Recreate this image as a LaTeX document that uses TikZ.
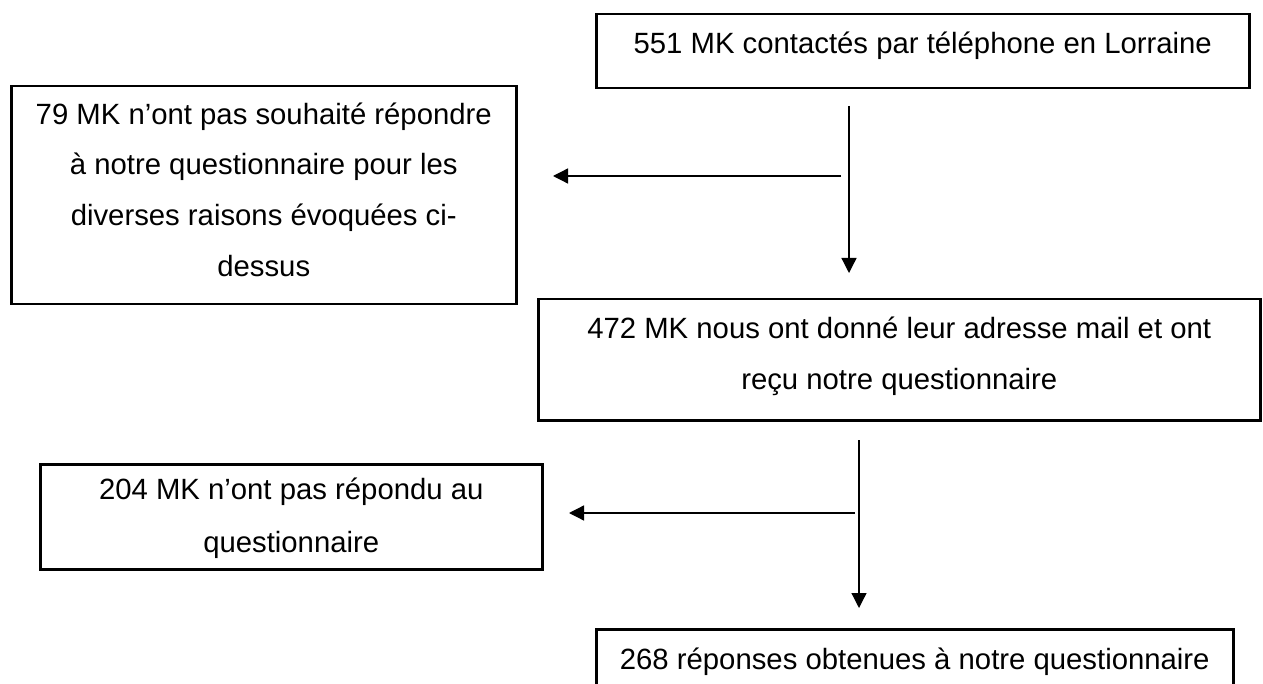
\documentclass[tikz,border=0pt]{standalone}
\usepackage{fontspec}
\setmainfont{Liberation Sans}
\usetikzlibrary{arrows.meta}
\newcommand\boxtext[5]{\parbox[t][#1][t]{#2}{\centering\fontsize{29.3pt}{#4}\selectfont\rule{0pt}{#3}#5\par}}
\tikzset{
  boxframe/.style={draw, line width=2.5pt, inner sep=0pt, anchor=north west},
  conn/.style={line width=1.3pt, -{Triangle[length=15pt,width=15pt]}},
}
\begin{document}
\begin{tikzpicture}[x=1pt,y=-1pt]
\useasboundingbox (0,0) rectangle (1263,684);
\clip (0,0) rectangle (1263,684);
\node[boxframe] (b1) at (595,13) {\boxtext{74pt}{653pt}{39pt}{51pt}{551 MK contactés par téléphone en Lorraine}};
\node[boxframe] (b2) at (10,85) {\boxtext{218pt}{505pt}{38pt}{50.7pt}{79 MK n’ont pas souhaité répondre\\à notre questionnaire pour les\\diverses raisons évoquées ci-\\dessus}};
\node[boxframe] (b3) at (537,298) {\boxtext{121pt}{722pt}{39pt}{51pt}{472 MK nous ont donné leur adresse mail et ont\\reçu notre questionnaire}};
\node[boxframe] (b4) at (39,463) {\boxtext{105pt}{502pt}{35pt}{53pt}{204 MK n’ont pas répondu au\\questionnaire}};
\node[boxframe] (b5) at (595,628) {\boxtext{100pt}{637pt}{40pt}{51pt}{268 réponses obtenues à notre questionnaire}};
\coordinate (a1s) at (849,106);
\coordinate (a1e) at (849,273);
\coordinate (h1s) at (841,176);
\coordinate (h1e) at (553,176);
\coordinate (a2s) at (859,440);
\coordinate (a2e) at (859,608);
\coordinate (h2s) at (855,513);
\coordinate (h2e) at (569,513);
\draw[conn] (a1s) -- (a1e);
\draw[conn] (h1s) -- (h1e);
\draw[conn] (a2s) -- (a2e);
\draw[conn] (h2s) -- (h2e);
\end{tikzpicture}
\end{document}
